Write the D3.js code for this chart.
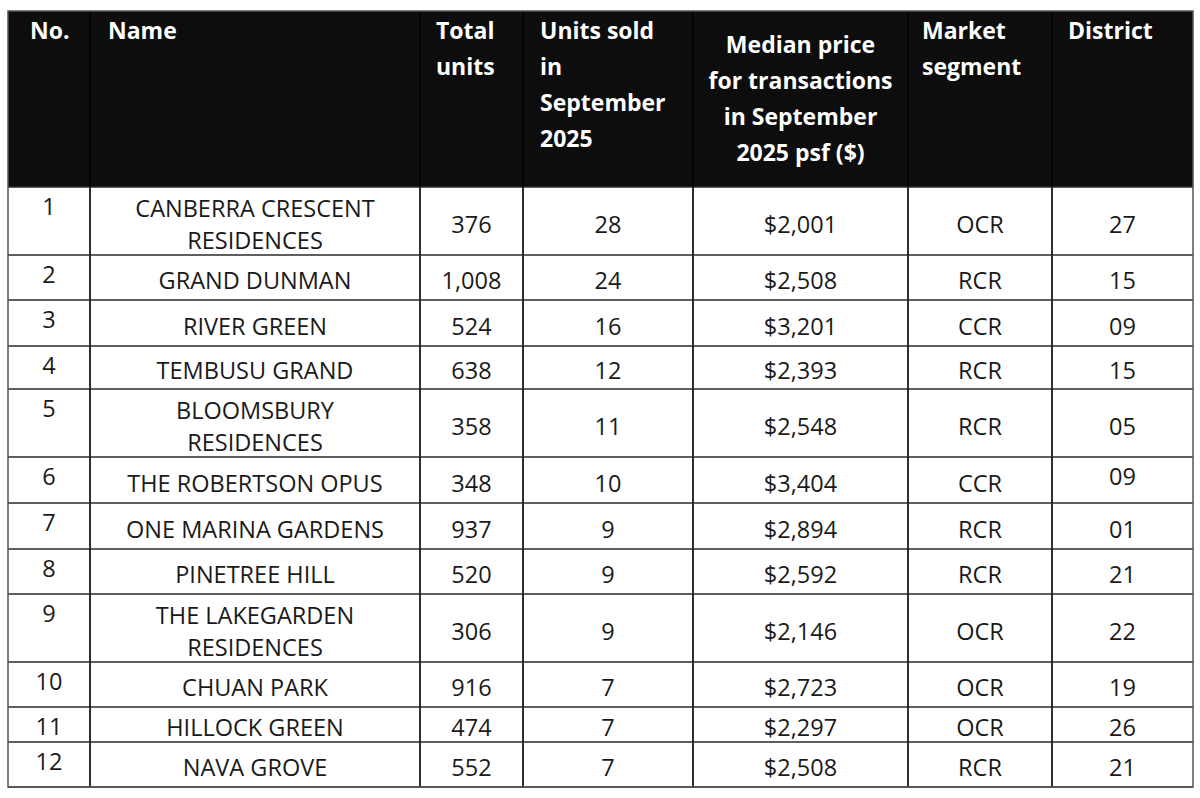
<!DOCTYPE html>
<html>
<head>
<meta charset="utf-8">
<script src="https://cdn.jsdelivr.net/npm/d3@7"></script>
<style>
  html, body { margin: 0; padding: 0; background: #fff; }
  svg { display: block; }
</style>
</head>
<body>
<svg id="tbl" width="1200" height="798"></svg>
<script>
// Table content
var headers = [
    ["No."],
    ["Name"],
    ["Total", "units"],
    ["Units sold", "in", "September", "2025"],
    ["Median price", "for transactions", "in September", "2025 psf ($)"],
    ["Market", "segment"],
    ["District"]
];
var ranks = [1, 2, 3, 4, 5, 6, 7, 8, 9, 10, 11, 12];
var names = [
    "CANBERRA CRESCENT\nRESIDENCES", "GRAND DUNMAN", "RIVER GREEN", "TEMBUSU GRAND",
    "BLOOMSBURY\nRESIDENCES", "THE ROBERTSON OPUS", "ONE MARINA GARDENS", "PINETREE HILL",
    "THE LAKEGARDEN\nRESIDENCES", "CHUAN PARK", "HILLOCK GREEN", "NAVA GROVE"
];
var totalUnits = [376, 1008, 524, 638, 358, 348, 937, 520, 306, 916, 474, 552];
var unitsSold = [28, 24, 16, 12, 11, 10, 9, 9, 9, 7, 7, 7];
var medianPsf = [2001, 2508, 3201, 2393, 2548, 3404, 2894, 2592, 2146, 2723, 2297, 2508];
var segments = ["OCR", "RCR", "CCR", "RCR", "RCR", "CCR", "RCR", "RCR", "OCR", "OCR", "OCR", "RCR"];
var districts = ["27", "15", "09", "15", "05", "09", "01", "21", "22", "19", "26", "21"];

// Layout
var colEdges = [8, 90, 420, 523, 693, 908, 1052, 1193];
var headPad = [22, 18, 16, 17, 0, 14, 16];
var tableTop = 11;
var headerH = 176;
var rowH = [68, 45, 46, 43, 68, 46, 46, 45, 68, 45, 35, 45];
var lineGap = 36;
var bodyGap = 32;
var fontFam = "'Open Sans', 'Noto Sans', sans-serif";

var fmt = d3.format(",");
var cols = d3.range(headers.length);

var colLeft = d3.scaleOrdinal().domain(cols).range(colEdges.slice(0, -1));
var colRight = d3.scaleOrdinal().domain(cols).range(colEdges.slice(1));

var rowTops = [tableTop + headerH].concat(
    Array.from(d3.cumsum(rowH), function(s) { return tableTop + headerH + s; }));
var rowY = d3.scaleOrdinal().domain(d3.range(ranks.length)).range(rowTops.slice(0, -1));
var tableBottom = rowTops[rowTops.length - 1];

var svg = d3.select("#tbl");

// header background
svg.append("rect")
    .attr("x", colEdges[0])
    .attr("y", tableTop)
    .attr("width", colEdges[colEdges.length - 1] - colEdges[0])
    .attr("height", headerH)
    .attr("fill", "#0d0d0d");

// header text
var head = svg.append("g")
    .attr("font-family", fontFam)
    .attr("font-weight", 700)
    .attr("font-size", "23px")
    .attr("fill", "#fff");

headers.forEach(function(lines, c) {
    var centered = (c === 4);
    var firstBase = centered
        ? tableTop + headerH / 2 - (lines.length - 1) * lineGap / 2 + 8
        : tableTop + 28;
    head.append("text")
        .attr("text-anchor", centered ? "middle" : "start")
        .selectAll("tspan")
        .data(lines)
        .enter()
        .append("tspan")
        .attr("x", centered ? (colLeft(c) + colRight(c)) / 2 : colLeft(c) + headPad[c])
        .attr("y", function(d, i) { return firstBase + i * lineGap; })
        .text(function(d) { return d; });
});

// body cells
var rows = ranks.map(function(r, i) {
    return [
        String(r),
        names[i],
        fmt(totalUnits[i]),
        String(unitsSold[i]),
        "$" + fmt(medianPsf[i]),
        segments[i],
        districts[i]
    ];
});

var body = svg.append("g")
    .attr("font-family", fontFam)
    .attr("font-size", "23.5px")
    .attr("fill", "#1a1a1a");

rows.forEach(function(cells, r) {
    var top = rowY(r);
    var mid = top + rowH[r] / 2;
    cells.forEach(function(txt, c) {
        var lines = txt.split("\n");
        // No. column (and one district cell) sit at the top of the row
        var topAligned = (c === 0) || (c === 6 && r === 5);
        var firstBase = topAligned
            ? top + 28
            : mid + 10.5 - (lines.length - 1) * bodyGap / 2 + 1;
        body.append("text")
            .attr("text-anchor", "middle")
            .selectAll("tspan")
            .data(lines)
            .enter()
            .append("tspan")
            .attr("x", (colLeft(c) + colRight(c)) / 2)
            .attr("y", function(d, i) { return firstBase + i * bodyGap; })
            .text(function(d) { return d; });
    });
});

// grid lines
var grid = svg.append("g")
    .attr("stroke", "#2a2a2a")
    .attr("stroke-width", 1.5);

grid.selectAll("line.h")
    .data(rowTops)
    .enter()
    .append("line")
    .attr("class", "h")
    .attr("x1", colEdges[0])
    .attr("x2", colEdges[colEdges.length - 1])
    .attr("y1", function(d) { return d; })
    .attr("y2", function(d) { return d; });

grid.selectAll("line.v")
    .data(colEdges.slice(1, -1))
    .enter()
    .append("line")
    .attr("class", "v")
    .attr("x1", function(d) { return d; })
    .attr("x2", function(d) { return d; })
    .attr("y1", tableTop)
    .attr("y2", tableBottom)
    .attr("stroke", "#000");

// thin header separators are drawn on top of the black band
grid.selectAll("line.vb")
    .data(colEdges.slice(1, -1))
    .enter()
    .append("line")
    .attr("class", "vb")
    .attr("x1", function(d) { return d; })
    .attr("x2", function(d) { return d; })
    .attr("y1", tableTop + headerH)
    .attr("y2", tableBottom);

// outer border
svg.append("rect")
    .attr("x", colEdges[0])
    .attr("y", tableTop)
    .attr("width", colEdges[colEdges.length - 1] - colEdges[0])
    .attr("height", tableBottom - tableTop)
    .attr("fill", "none")
    .attr("stroke", "#555")
    .attr("stroke-width", 1.5);
</script>
</body>
</html>
